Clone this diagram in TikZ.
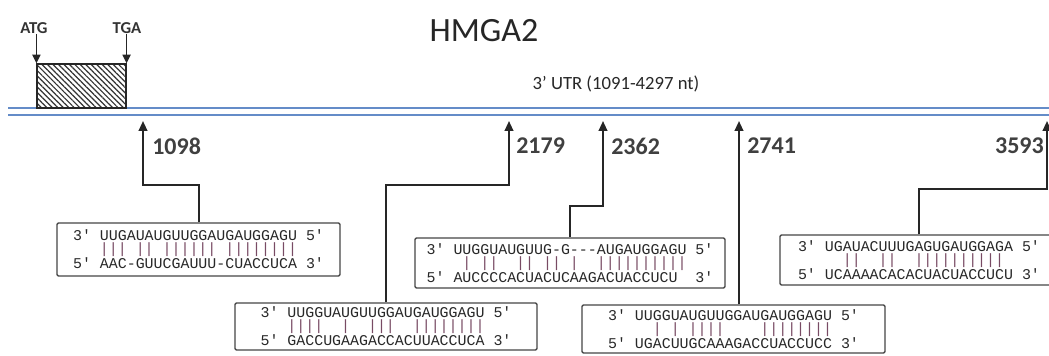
\documentclass[tikz,border=0pt]{standalone}
\usepackage{fontspec}
\setmainfont{Carlito}
\setmonofont{Liberation Mono}
\usetikzlibrary{arrows.meta,patterns.meta}
\definecolor{utrblue}{RGB}{100,140,200}
\definecolor{boxgray}{RGB}{70,70,70}
\definecolor{txtgray}{RGB}{40,40,40}
\definecolor{pairc}{RGB}{120,75,100}
\tikzset{
  conn/.style={line width=1.5pt, draw=black!85, -{Triangle[length=7.5pt,width=6.5pt]}},
  seqbox/.style={draw=boxgray, line width=1.1pt, rounded corners=1pt, fill=white, align=left, inner sep=0pt,
    font={\ttfamily\fontsize{11.2}{9.75}\selectfont}, text=txtgray},
  poslabel/.style={font=\bfseries\fontsize{18}{20}\selectfont, text=black!75, inner sep=0pt},
  gene/.style={font=\bfseries\fontsize{12.5}{14}\selectfont, text=black!80, inner sep=0pt},
  utrline/.style={draw=utrblue, line width=1.7pt},
}
\newcommand\pairs[1]{\textcolor{pairc}{#1}}
\begin{document}
\begin{tikzpicture}[x=0.75pt,y=-0.75pt]
\clip (0,0) rectangle (1049,356);
\fill[white] (0,0) rectangle (1049,356);

% title and UTR label
\node[font=\fontsize{25.5}{28}\selectfont, text=black!85, inner sep=0pt] (title) at (484,31) {HMGA2};
\node[font=\fontsize{14}{16}\selectfont, text=txtgray, inner sep=0pt] (utr) at (616,84) {3’ UTR (1091-4297 nt)};

% transcript double line
\draw[utrline] (8,108) -- (1049,108);
\draw[utrline] (8,115) -- (1049,115);

% coding region
\node[draw=black!85, line width=0.9pt, inner sep=0pt, minimum width=66.75pt, minimum height=33pt,
  pattern={Lines[angle=-45,distance=2.9pt,line width=0.9pt]}, pattern color=black!80] (cds) at (81.5,86) {};
\node[gene] (atg) at (34,28) {ATG};
\node[gene] (tga) at (127,28) {TGA};
\draw[conn, -{Triangle[length=6.5pt,width=6pt]}, line width=1.2pt] (atg.south -| cds.north west) -- (cds.north west);
\draw[conn, -{Triangle[length=6.5pt,width=6pt]}, line width=1.2pt] (tga.south -| cds.north east) -- (cds.north east);

% binding site boxes
\node[seqbox, minimum width=212.25pt, minimum height=39.75pt] (b1) at (198.5,249.5)
  {3'~UUGAUAUGUUGGAUGAUGGAGU~5'\\\pairs{~~~|||~||~||||||~||||||||}\\5'~AAC-GUUCGAUUU-CUACCUCA~3'};
\node[seqbox, minimum width=226.5pt, minimum height=35.25pt] (b2) at (386,326.5)
  {3'~UUGGUAUGUUGGAUGAUGGAGU~5'\\\pairs{~~~||||~~|~~|||~~||||||||}\\5'~GACCUGAAGACCACUUACCUCA~3'};
\node[seqbox, minimum width=232.5pt, minimum height=37.5pt] (b3) at (570,263)
  {3'~UUGGUAUGUUG-G{-}{-}{-}AUGAUGGAGU~5'\\\pairs{~~~~|~||~~||~||~|~~||||||||||}\\5'~AUCCCCACUACUCAAGACUACCUCU~~3'};
\node[seqbox, minimum width=227.25pt, minimum height=36pt] (b4) at (733.5,329)
  {3'~UUGGUAUGUUGGAUGAUGGAGU~5'\\\pairs{~~~~~|~|~||||~~~~||||||||}\\5'~UGACUUGCAAAGACCUACCUCC~3'};
\node[seqbox, minimum width=208.5pt, minimum height=37.5pt] (b5) at (919,260)
  {3'~UGAUACUUUGAGUGAUGGAGA~5'\\\pairs{~~~~~||~~||~~||||||||||}\\5'~UCAAAACACACUACUACCUCU~3'};

% arrow tips on the transcript and bends
\coordinate (t1) at (143,121);
\coordinate (k1) at (143,185);
\coordinate (t2) at (509,121);
\coordinate (k2) at (509,185);
\coordinate (t3) at (603,121);
\coordinate (k3) at (603,206);
\coordinate (t4) at (739,121);
\coordinate (t5) at (1047,121);
\coordinate (k5) at (1047,189);

\draw[conn] (b1.north) |- (k1) -- (t1);
\draw[conn] (b2.north) |- (k2) -- (t2);
\draw[conn] (b3.north) |- (k3) -- (t3);
\draw[conn] (t4 |- b4.north) -- (t4);
\draw[conn] (b5.north) |- (k5) -- (t5);

% position labels
\node[poslabel, anchor=west] (l1) at (152,146) {1098};
\node[poslabel, anchor=west] (l2) at (516,146) {2179};
\node[poslabel, anchor=west] (l3) at (611,146) {2362};
\node[poslabel, anchor=west] (l4) at (747,146) {2741};
\node[poslabel, anchor=east] (l5) at (1044,146) {3593};
\end{tikzpicture}
\end{document}
